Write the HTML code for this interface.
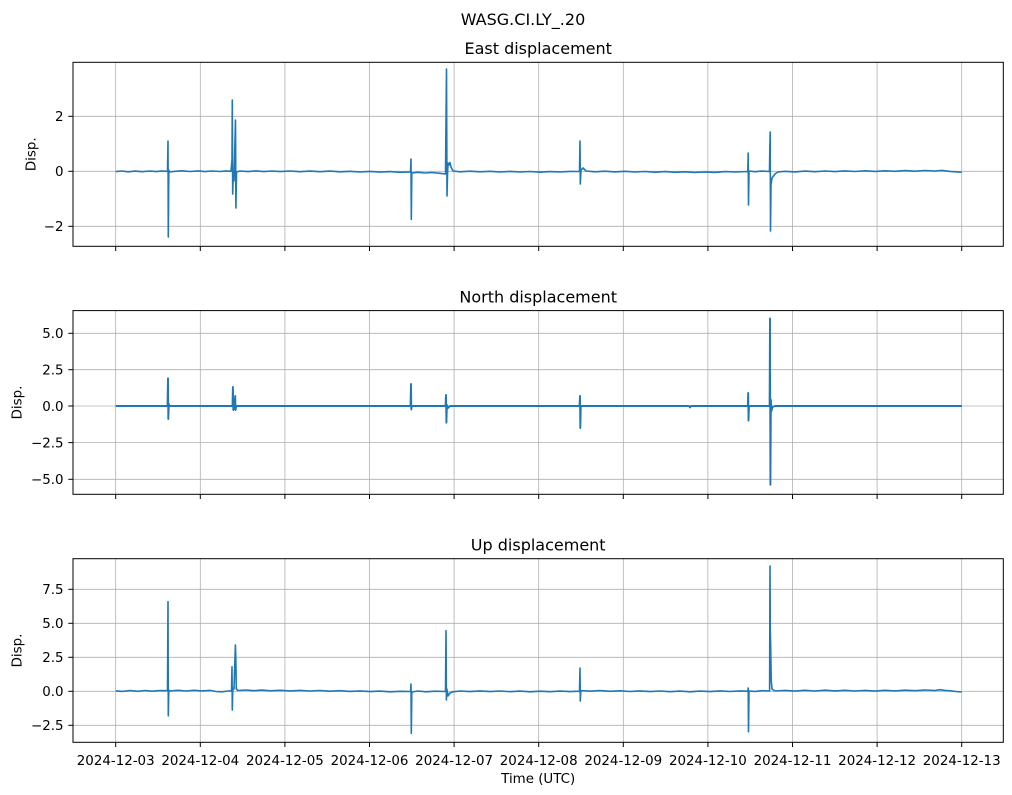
<!DOCTYPE html>
<html>
<head>
<meta charset="utf-8">
<style>
html,body{margin:0;padding:0;background:#fff;}
svg{display:block;}
text{font-family:"DejaVu Sans","Liberation Sans",sans-serif;fill:#000;}
.tk{font-size:13.4px;}
.ttl{font-size:16px;}
.grid line{stroke:#b0b0b0;stroke-width:0.8;}
.spine{fill:none;stroke:#000;stroke-width:1;}
.tick line{stroke:#000;stroke-width:1;}
.trace{fill:none;stroke:#1f77b4;stroke-width:1.6;stroke-linejoin:round;}
</style>
</head>
<body>
<svg width="1012" height="795" viewBox="0 0 1012 795" xmlns="http://www.w3.org/2000/svg">
<rect width="1012" height="795" fill="#fff"/>
<text class="ttl" x="523" y="25" text-anchor="middle">WASG.CI.LY_.20</text>

<!-- ============ PANEL 1: East ============ -->
<g>
<text class="ttl" x="538.2" y="54" text-anchor="middle">East displacement</text>
<g class="grid">
<line x1="115.7" y1="62.3" x2="115.7" y2="246.3"/><line x1="200.3" y1="62.3" x2="200.3" y2="246.3"/><line x1="284.9" y1="62.3" x2="284.9" y2="246.3"/><line x1="369.5" y1="62.3" x2="369.5" y2="246.3"/><line x1="454.1" y1="62.3" x2="454.1" y2="246.3"/><line x1="538.7" y1="62.3" x2="538.7" y2="246.3"/><line x1="623.3" y1="62.3" x2="623.3" y2="246.3"/><line x1="707.9" y1="62.3" x2="707.9" y2="246.3"/><line x1="792.5" y1="62.3" x2="792.5" y2="246.3"/><line x1="877.1" y1="62.3" x2="877.1" y2="246.3"/><line x1="961.7" y1="62.3" x2="961.7" y2="246.3"/>
<line x1="73" y1="116.3" x2="1003.3" y2="116.3"/><line x1="73" y1="171.3" x2="1003.3" y2="171.3"/><line x1="73" y1="226.3" x2="1003.3" y2="226.3"/>
</g>
<path class="trace" d="M115.7,171.6 L122,171 L128,171.8 L135,171.1 L142,171.7 L150,171 L156,171.6 L162,171.1 L167.5,171.3 L168,141 L168.3,237 L168.8,170 L169.5,172 L175,171.3 L182,170.8 L190,171.5 L198,170.9 L205,171.6 L212,171 L220,171.5 L226,170.9 L231,171.3 L232,160 L232.3,100 L232.7,194 L233.2,175 L234,181 L235.5,120 L235.9,208 L236.5,172 L240,171 L248,171.6 L256,170.9 L264,171.6 L272,171 L280,171.6 L290,171 L300,171.7 L310,171.1 L320,171.7 L330,171.1 L340,171.8 L350,171.3 L360,172 L370,171.4 L380,172.1 L390,171.6 L400,172.3 L410.5,172 L411,159 L411.3,219.5 L411.8,173 L418,172.3 L425,173 L432,172.5 L440,173.3 L445.5,174 L446.5,69 L447,196 L447.5,175 L448,163 L449,165 L450,162.5 L451,167 L453,171 L460,171.8 L470,171.2 L480,171.8 L490,171.3 L500,172 L510,171.4 L520,172 L530,171.5 L540,172.2 L550,171.6 L560,172 L570,171.4 L579.5,171.5 L580,141 L580.3,184 L581,170 L583,168 L586,171 L595,171.8 L605,171.2 L615,171.9 L625,171.3 L635,172 L645,171.5 L655,172.2 L665,171.6 L675,172.3 L685,171.8 L695,172.5 L705,171.9 L715,172.4 L725,171.6 L735,172 L747.8,171.5 L748.2,153 L748.5,205 L749,171 L755,171.7 L762,171.1 L769.5,171.5 L769.8,150 L770.2,132 L770.5,231 L771,185 L772,178 L773.5,176 L775.5,173.5 L778,172 L785,171.3 L795,171.9 L805,171.1 L815,171.7 L825,171 L835,171.6 L845,170.9 L855,171.5 L865,170.8 L875,171.4 L885,170.8 L895,171.3 L905,170.6 L915,171.2 L925,170.5 L935,171 L942,170.4 L950,171.4 L961.7,172.2"/>
<rect class="spine" x="73" y="62.3" width="930.3" height="184"/>
<g class="tick">
<line x1="68.3" y1="116.3" x2="73" y2="116.3"/><line x1="68.3" y1="171.3" x2="73" y2="171.3"/><line x1="68.3" y1="226.3" x2="73" y2="226.3"/>
<line x1="115.7" y1="246.3" x2="115.7" y2="251"/><line x1="200.3" y1="246.3" x2="200.3" y2="251"/><line x1="284.9" y1="246.3" x2="284.9" y2="251"/><line x1="369.5" y1="246.3" x2="369.5" y2="251"/><line x1="454.1" y1="246.3" x2="454.1" y2="251"/><line x1="538.7" y1="246.3" x2="538.7" y2="251"/><line x1="623.3" y1="246.3" x2="623.3" y2="251"/><line x1="707.9" y1="246.3" x2="707.9" y2="251"/><line x1="792.5" y1="246.3" x2="792.5" y2="251"/><line x1="877.1" y1="246.3" x2="877.1" y2="251"/><line x1="961.7" y1="246.3" x2="961.7" y2="251"/>
</g>
<text class="tk" x="63.5" y="121.2" text-anchor="end">2</text>
<text class="tk" x="63.5" y="176.2" text-anchor="end">0</text>
<text class="tk" x="63.5" y="231.2" text-anchor="end">−2</text>
<text class="tk" transform="translate(35.5,154.3) rotate(-90)" text-anchor="middle">Disp.</text>
</g>

<!-- ============ PANEL 2: North ============ -->
<g>
<text class="ttl" x="538.2" y="302.3" text-anchor="middle">North displacement</text>
<g class="grid">
<line x1="115.7" y1="310.6" x2="115.7" y2="494.3"/><line x1="200.3" y1="310.6" x2="200.3" y2="494.3"/><line x1="284.9" y1="310.6" x2="284.9" y2="494.3"/><line x1="369.5" y1="310.6" x2="369.5" y2="494.3"/><line x1="454.1" y1="310.6" x2="454.1" y2="494.3"/><line x1="538.7" y1="310.6" x2="538.7" y2="494.3"/><line x1="623.3" y1="310.6" x2="623.3" y2="494.3"/><line x1="707.9" y1="310.6" x2="707.9" y2="494.3"/><line x1="792.5" y1="310.6" x2="792.5" y2="494.3"/><line x1="877.1" y1="310.6" x2="877.1" y2="494.3"/><line x1="961.7" y1="310.6" x2="961.7" y2="494.3"/>
<line x1="73" y1="333.3" x2="1003.3" y2="333.3"/><line x1="73" y1="369.7" x2="1003.3" y2="369.7"/><line x1="73" y1="406" x2="1003.3" y2="406"/><line x1="73" y1="442.6" x2="1003.3" y2="442.6"/><line x1="73" y1="479.3" x2="1003.3" y2="479.3"/>
</g>
<path class="trace" style="stroke-width:1.9" d="M115.7,406 L167.5,406 L168,378.3 L168.3,419 L168.8,404 L169.5,406 L232.5,406 L232.9,387 L233.3,410 L233.8,405 L234.6,409 L235.2,396 L235.6,410 L236.2,406 L410.5,406 L411,384 L411.3,409.5 L411.8,406 L445.5,406 L446,395 L446.4,422.7 L446.9,405 L448,408 L450,406 L579.5,406 L580,396 L580.3,428 L580.8,406 L689,406 L690,407.5 L691,406 L747.8,406 L748.2,393 L748.5,420.6 L749,406 L769.6,406 L770,318.4 L770.4,484.8 L770.9,400 L771.5,411 L772.5,407 L775,406 L961.7,406"/>
<rect class="spine" x="73" y="310.6" width="930.3" height="183.7"/>
<g class="tick">
<line x1="68.3" y1="333.3" x2="73" y2="333.3"/><line x1="68.3" y1="369.7" x2="73" y2="369.7"/><line x1="68.3" y1="406" x2="73" y2="406"/><line x1="68.3" y1="442.6" x2="73" y2="442.6"/><line x1="68.3" y1="479.3" x2="73" y2="479.3"/>
<line x1="115.7" y1="494.3" x2="115.7" y2="499"/><line x1="200.3" y1="494.3" x2="200.3" y2="499"/><line x1="284.9" y1="494.3" x2="284.9" y2="499"/><line x1="369.5" y1="494.3" x2="369.5" y2="499"/><line x1="454.1" y1="494.3" x2="454.1" y2="499"/><line x1="538.7" y1="494.3" x2="538.7" y2="499"/><line x1="623.3" y1="494.3" x2="623.3" y2="499"/><line x1="707.9" y1="494.3" x2="707.9" y2="499"/><line x1="792.5" y1="494.3" x2="792.5" y2="499"/><line x1="877.1" y1="494.3" x2="877.1" y2="499"/><line x1="961.7" y1="494.3" x2="961.7" y2="499"/>
</g>
<text class="tk" x="63.5" y="338.2" text-anchor="end">5.0</text>
<text class="tk" x="63.5" y="374.6" text-anchor="end">2.5</text>
<text class="tk" x="63.5" y="410.9" text-anchor="end">0.0</text>
<text class="tk" x="63.5" y="447.5" text-anchor="end">−2.5</text>
<text class="tk" x="63.5" y="484.2" text-anchor="end">−5.0</text>
<text class="tk" transform="translate(21.5,402.5) rotate(-90)" text-anchor="middle">Disp.</text>
</g>

<!-- ============ PANEL 3: Up ============ -->
<g>
<text class="ttl" x="538.2" y="550.6" text-anchor="middle">Up displacement</text>
<g class="grid">
<line x1="115.7" y1="558.7" x2="115.7" y2="742.3"/><line x1="200.3" y1="558.7" x2="200.3" y2="742.3"/><line x1="284.9" y1="558.7" x2="284.9" y2="742.3"/><line x1="369.5" y1="558.7" x2="369.5" y2="742.3"/><line x1="454.1" y1="558.7" x2="454.1" y2="742.3"/><line x1="538.7" y1="558.7" x2="538.7" y2="742.3"/><line x1="623.3" y1="558.7" x2="623.3" y2="742.3"/><line x1="707.9" y1="558.7" x2="707.9" y2="742.3"/><line x1="792.5" y1="558.7" x2="792.5" y2="742.3"/><line x1="877.1" y1="558.7" x2="877.1" y2="742.3"/><line x1="961.7" y1="558.7" x2="961.7" y2="742.3"/>
<line x1="73" y1="589.3" x2="1003.3" y2="589.3"/><line x1="73" y1="623.3" x2="1003.3" y2="623.3"/><line x1="73" y1="657.3" x2="1003.3" y2="657.3"/><line x1="73" y1="691.3" x2="1003.3" y2="691.3"/><line x1="73" y1="725.3" x2="1003.3" y2="725.3"/>
</g>
<path class="trace" d="M115.7,690.8 L122,691.4 L130,690.6 L138,691.3 L145,690.5 L152,691.2 L160,690.6 L167.5,690.7 L168,601.5 L168.3,715.8 L168.8,690 L170,691 L178,690.3 L186,691 L194,690.3 L202,690.9 L210,690.4 L216,691.5 L222,691.8 L228,691 L231.5,690.8 L232,666.8 L232.3,710 L232.8,688 L234,689 L235.4,645 L235.8,658 L236.3,689 L238,690.5 L246,690 L254,690.7 L262,690.1 L270,690.8 L280,690.3 L290,690.9 L300,690.4 L310,691 L320,690.5 L330,691.2 L340,690.7 L350,691.4 L360,690.9 L370,691.6 L380,691.1 L390,691.8 L400,691.3 L410.6,691.5 L411,684 L411.3,733.3 L411.8,692 L418,691 L426,691.8 L435,691.2 L445.5,691.5 L446,630.7 L446.4,700 L446.9,689 L448,696 L450,693 L453,691.8 L460,691 L470,691.6 L480,690.9 L490,691.6 L500,691 L510,691.7 L520,691.1 L530,691.8 L540,691.2 L550,691.7 L560,691.1 L570,691.6 L579.5,691.2 L580,668 L580.3,701 L580.8,690.5 L590,691.2 L600,690.6 L610,691.3 L620,690.8 L630,691.5 L640,690.9 L650,691.6 L660,691 L670,691.7 L680,691.1 L690,691.8 L700,691.1 L710,691.6 L720,690.9 L730,691.5 L740,690.9 L747.8,691.2 L748.2,688 L748.5,731.7 L749,691 L755,691.4 L762,690.7 L769.6,691 L770,566 L770.3,631 L770.7,646.7 L771.2,680 L772,689 L775,691 L785,690.4 L795,691.1 L805,690.3 L815,691 L825,690.2 L835,690.9 L845,690.3 L855,691 L865,690.4 L875,691.1 L885,690.3 L895,690.9 L905,690.2 L915,690.7 L925,690 L935,690.5 L940,689.7 L945,690.4 L950,690.8 L956,691.5 L961.7,692"/>
<rect class="spine" x="73" y="558.7" width="930.3" height="183.6"/>
<g class="tick">
<line x1="68.3" y1="589.3" x2="73" y2="589.3"/><line x1="68.3" y1="623.3" x2="73" y2="623.3"/><line x1="68.3" y1="657.3" x2="73" y2="657.3"/><line x1="68.3" y1="691.3" x2="73" y2="691.3"/><line x1="68.3" y1="725.3" x2="73" y2="725.3"/>
<line x1="115.7" y1="742.3" x2="115.7" y2="747"/><line x1="200.3" y1="742.3" x2="200.3" y2="747"/><line x1="284.9" y1="742.3" x2="284.9" y2="747"/><line x1="369.5" y1="742.3" x2="369.5" y2="747"/><line x1="454.1" y1="742.3" x2="454.1" y2="747"/><line x1="538.7" y1="742.3" x2="538.7" y2="747"/><line x1="623.3" y1="742.3" x2="623.3" y2="747"/><line x1="707.9" y1="742.3" x2="707.9" y2="747"/><line x1="792.5" y1="742.3" x2="792.5" y2="747"/><line x1="877.1" y1="742.3" x2="877.1" y2="747"/><line x1="961.7" y1="742.3" x2="961.7" y2="747"/>
</g>
<text class="tk" x="63.5" y="594.2" text-anchor="end">7.5</text>
<text class="tk" x="63.5" y="628.2" text-anchor="end">5.0</text>
<text class="tk" x="63.5" y="662.2" text-anchor="end">2.5</text>
<text class="tk" x="63.5" y="696.2" text-anchor="end">0.0</text>
<text class="tk" x="63.5" y="730.2" text-anchor="end">−2.5</text>
<text class="tk" transform="translate(21.5,650.5) rotate(-90)" text-anchor="middle">Disp.</text>
<text class="tk" x="115.7" y="765" text-anchor="middle">2024-12-03</text>
<text class="tk" x="200.3" y="765" text-anchor="middle">2024-12-04</text>
<text class="tk" x="284.9" y="765" text-anchor="middle">2024-12-05</text>
<text class="tk" x="369.5" y="765" text-anchor="middle">2024-12-06</text>
<text class="tk" x="454.1" y="765" text-anchor="middle">2024-12-07</text>
<text class="tk" x="538.7" y="765" text-anchor="middle">2024-12-08</text>
<text class="tk" x="623.3" y="765" text-anchor="middle">2024-12-09</text>
<text class="tk" x="707.9" y="765" text-anchor="middle">2024-12-10</text>
<text class="tk" x="792.5" y="765" text-anchor="middle">2024-12-11</text>
<text class="tk" x="877.1" y="765" text-anchor="middle">2024-12-12</text>
<text class="tk" x="961.7" y="765" text-anchor="middle">2024-12-13</text>
<text class="tk" x="538.2" y="783" text-anchor="middle">Time (UTC)</text>
</g>
</svg>
</body>
</html>
